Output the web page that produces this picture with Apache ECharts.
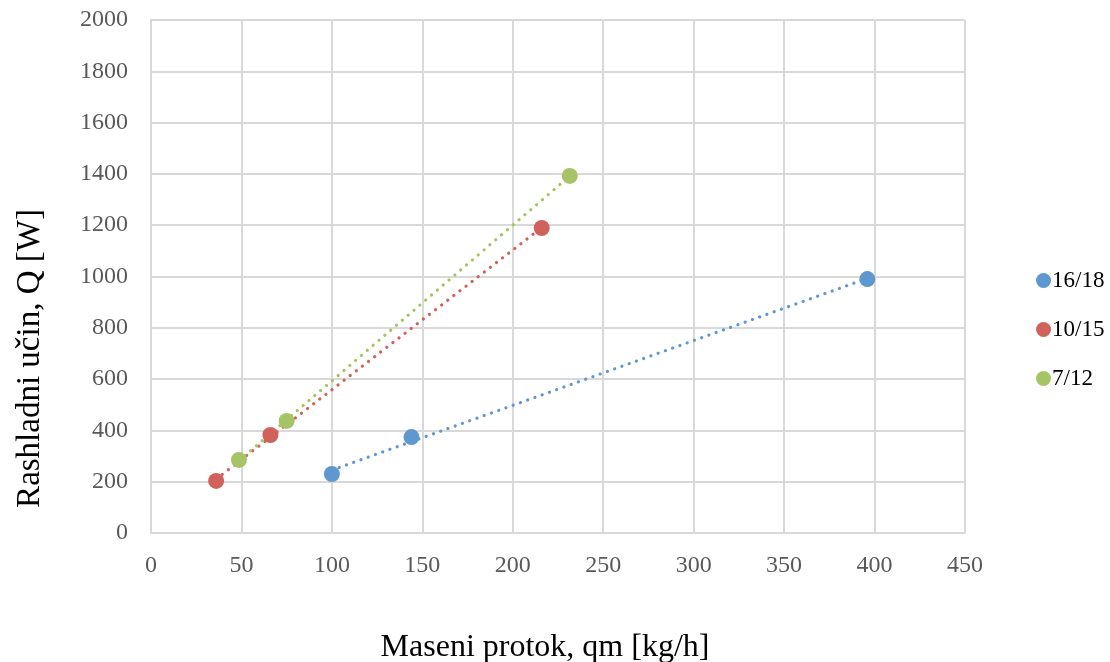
<!DOCTYPE html>
<html>
<head>
<meta charset="utf-8">
<script src="https://cdn.jsdelivr.net/npm/echarts@6/dist/echarts.min.js"></script>
<style>
  html, body { margin: 0; padding: 0; background: #fff; }
  #chart { width: 1110px; height: 662px; }
</style>
</head>
<body>
<div id="chart"></div>
<script>
  // series names and values (qm [kg/h], Q [W])
  var seriesNames = ['16/18', '10/15', '7/12'];
  var colors = ['#5f97d0', '#d0625b', '#a6c465'];
  var flow1618 = [100, 144, 396];
  var power1618 = [230, 374, 990];
  var flow1015 = [36, 66, 216];
  var power1015 = [203, 382, 1189];
  var flow712 = [48.6, 75, 231.5];
  var power712 = [285, 437, 1392];

  var flows = [flow1618, flow1015, flow712];
  var powers = [power1618, power1015, power712];

  // linear trend line between smallest and largest x
  function trend(xs, ys) {
    var n = xs.length, sx = 0, sy = 0, sxx = 0, sxy = 0;
    for (var i = 0; i < n; i++) {
      sx += xs[i]; sy += ys[i]; sxx += xs[i] * xs[i]; sxy += xs[i] * ys[i];
    }
    var k = (n * sxy - sx * sy) / (n * sxx - sx * sx);
    var b = (sy - k * sx) / n;
    var x0 = Math.min.apply(null, xs), x1 = Math.max.apply(null, xs);
    return [[x0, k * x0 + b], [x1, k * x1 + b]];
  }

  var series = [];
  for (var i = 0; i < seriesNames.length; i++) {
    series.push({
      name: seriesNames[i] + ' trend',
      type: 'line',
      data: trend(flows[i], powers[i]),
      symbol: 'none',
      silent: true,
      lineStyle: { color: colors[i], width: 3.2, type: [0.1, 7.6], cap: 'round' },
      z: 1
    });
  }
  for (var j = 0; j < seriesNames.length; j++) {
    var pts = [];
    for (var m = 0; m < flows[j].length; m++) pts.push([flows[j][m], powers[j][m]]);
    series.push({
      name: seriesNames[j],
      type: 'scatter',
      data: pts,
      symbolSize: 16,
      itemStyle: { color: colors[j], opacity: 1 },
      z: 3
    });
  }

  var font = '"Liberation Serif", "Times New Roman", serif';
  var chart = echarts.init(document.getElementById('chart'));
  chart.setOption({
    animation: false,
    textStyle: { fontFamily: font },
    grid: { left: 151, right: 145, top: 20, bottom: 129, outerBoundsMode: 'none' },
    legend: {
      data: seriesNames,
      orient: 'vertical',
      left: 1031,
      top: 264,
      itemGap: 26,
      icon: 'circle',
      itemWidth: 15,
      itemHeight: 15,
      textStyle: { fontFamily: font, fontSize: 23, color: '#000', padding: [0, 0, 0, -4] }
    },
    xAxis: {
      type: 'value',
      min: 0,
      max: 450,
      interval: 50,
      name: 'Maseni protok, qm [kg/h]',
      nameLocation: 'middle',
      nameGap: 99,
      nameTextStyle: { fontFamily: font, fontSize: 32, color: '#000', padding: [0, 26, 0, 0] },
      axisLine: { show: true, lineStyle: { color: '#d9d9d9', width: 2 } },
      axisTick: { show: false },
      axisLabel: { fontFamily: font, fontSize: 24, color: '#595959', margin: 21 },
      splitLine: { show: true, lineStyle: { color: '#d9d9d9', width: 2 } }
    },
    yAxis: {
      type: 'value',
      min: 0,
      max: 2000,
      interval: 200,
      name: 'Rashladni učin, Q [W]',
      nameLocation: 'middle',
      nameGap: 104,
      nameTextStyle: { fontFamily: font, fontSize: 33, color: '#000', padding: [0, 164, 0, 0] },
      axisLine: { show: true, lineStyle: { color: '#d9d9d9', width: 2 } },
      axisTick: { show: false },
      axisLabel: {
        fontFamily: font, fontSize: 24, color: '#595959', margin: 23,
        formatter: function (v) { return String(v); }
      },
      splitLine: { show: true, lineStyle: { color: '#d9d9d9', width: 2 } }
    },
    series: series
  });
</script>
</body>
</html>
